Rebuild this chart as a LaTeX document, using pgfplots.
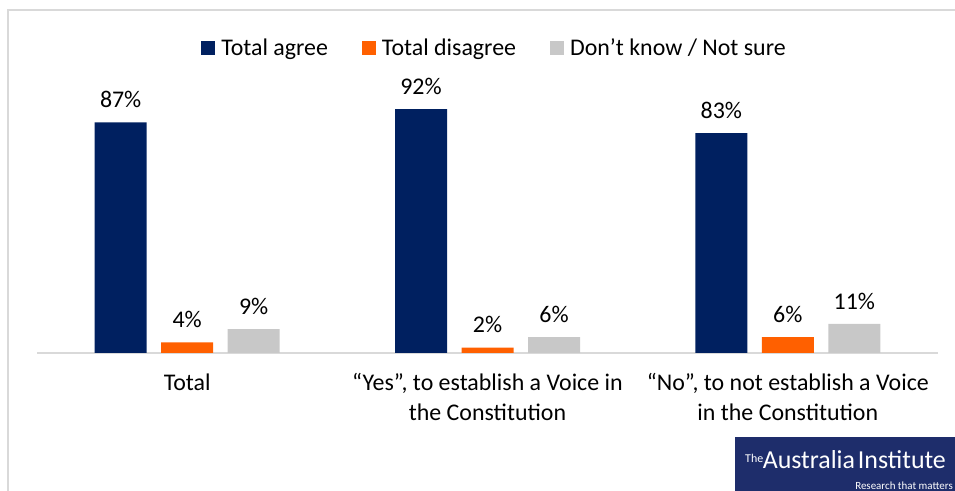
\documentclass[border=0pt]{standalone}
\usepackage{fontspec}
\setmainfont{Carlito}
\usepackage{pgfplots}
\pgfplotsset{compat=1.18}
\definecolor{navy}{HTML}{002060}
\definecolor{orng}{HTML}{FF6000}
\definecolor{lgrey}{HTML}{C8C8C8}
\definecolor{axgrey}{HTML}{D9D9D9}
\definecolor{logoblue}{HTML}{1E2D6B}
\pgfplotsset{sq/.style={legend image code/.code={\fill[##1] (0bp,-7bp) rectangle (14bp,7bp);}}}
\begin{document}
\begin{tikzpicture}
\useasboundingbox (0,0) rectangle (955bp,491bp);
\clip (0,0) rectangle (955bp,491bp);
\draw[axgrey, line width=1.5bp] (8bp,-2bp) -- (8bp,481bp) -- (960bp,481bp);
\begin{axis}[
 at={(37bp,138bp)}, anchor=south west,
 scale only axis, width=901bp, height=265bp,
 xmin=-0.5, xmax=2.5, ymin=0, ymax=100,
 ybar=14.5bp, bar width=52bp,
 axis y line=none, axis x line*=bottom,
 x axis line style={-, draw=axgrey, line width=1.5bp},
 xtick={0,1,2}, major tick length=0pt,
 xticklabels={Total, {“Yes”, to establish a Voice in\\the Constitution}, {“No”, to not establish a Voice\\in the Constitution}},
 xticklabel style={align=center, font=\fontsize{24}{30}\selectfont, yshift=-17bp},
 /pgf/number format/assume math mode=true,
 nodes near coords={\pgfmathprintnumber{\pgfplotspointmeta}\%},
 every node near coord/.append style={font=\fontsize{24}{29}\selectfont, yshift=11bp, text=black},
 legend style={at={(0.5,1)}, anchor=center, yshift=40bp, xshift=7bp, draw=none, fill=none,
   legend columns=3, font=\fontsize{24}{29}\selectfont,
   /tikz/every odd column/.append style={column sep=4bp},
   /tikz/every even column/.append style={column sep=32bp}},
 clip=false,
]
\addplot[fill=navy, draw=none, sq] coordinates {(0,87) (1,92) (2,83)};
\addplot[fill=orng, draw=none, sq] coordinates {(0,4) (1,2) (2,6)};
\addplot[fill=lgrey, draw=none, sq] coordinates {(0,9) (1,6) (2,11)};
\legend{Total agree, Total disagree, Don’t know / Not sure}
\end{axis}
\fill[logoblue] (735bp,-2bp) rectangle (960bp,54bp);
\node[anchor=base west, text=white, inner sep=0, font=\fontsize{26}{26}\selectfont] at (745bp,23bp) {\raisebox{6bp}{\fontsize{12}{12}\selectfont The}\kern-0.5bp Australia\kern-3bp\ Institute};
\node[anchor=base east, text=white, inner sep=0, font=\fontsize{11}{11}\selectfont] at (953bp,2bp) {Research that matters};
\end{tikzpicture}
\end{document}
